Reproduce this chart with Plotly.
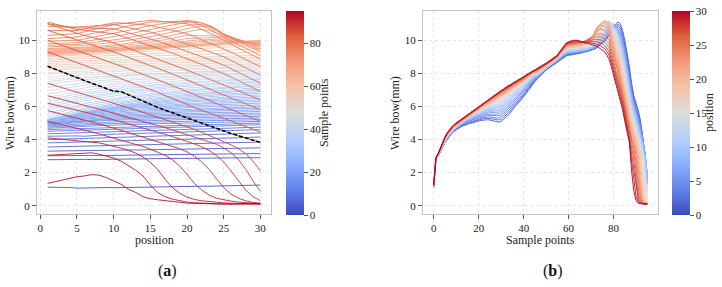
import plotly.graph_objects as go

# ---------------- data ----------------
positions = list(range(1, 31))          # x of panel (a), colour of panel (b)
sample_points = list(range(96))         # x of panel (b), colour of panel (a)
highlight_sample = 87                   # black dashed profile in panel (a)

# wire bow (mm): one row per sample point, 30 values (positions 1..30)
bow_samples_00_15 = [
    [1.12,1.12,1.11,1.1,1.06,1.08,1.1,1.11,1.1,1.09,1.1,1.12,1.13,1.14,1.15,1.15,1.16,1.15,1.15,1.16,1.17,1.18,1.18,1.19,1.2,1.21,1.22,1.22,1.23,1.25],
    [2.78,2.79,2.8,2.8,2.81,2.8,2.79,2.8,2.81,2.82,2.82,2.83,2.83,2.84,2.83,2.84,2.85,2.86,2.86,2.85,2.86,2.87,2.88,2.88,2.87,2.88,2.89,2.9,2.9,2.9],
    [3.02,3.03,3.03,3.04,3.05,3.05,3.04,3.03,3.04,3.05,3.06,3.06,3.07,3.08,3.08,3.07,3.08,3.09,3.1,3.1,3.1,3.11,3.12,3.12,3.11,3.12,3.13,3.14,3.15,3.15],
    [3.3,3.31,3.31,3.32,3.33,3.32,3.33,3.34,3.35,3.36,3.36,3.37,3.37,3.38,3.4,3.41,3.41,3.42,3.43,3.44,3.44,3.45,3.46,3.46,3.47,3.48,3.48,3.49,3.5,3.5],
    [3.55,3.56,3.57,3.58,3.59,3.6,3.61,3.6,3.61,3.62,3.64,3.66,3.67,3.68,3.69,3.7,3.71,3.72,3.73,3.74,3.75,3.76,3.77,3.78,3.79,3.8,3.81,3.82,3.84,3.85],
    [3.8,3.81,3.82,3.84,3.85,3.86,3.87,3.88,3.9,3.91,3.92,3.93,3.94,3.96,3.97,3.98,3.99,4.0,4.02,4.03,4.04,4.05,4.06,4.08,4.09,4.1,4.11,4.12,4.14,4.15],
    [4.0,4.01,4.03,4.04,4.06,4.07,4.08,4.1,4.11,4.12,4.14,4.15,4.17,4.18,4.19,4.21,4.22,4.23,4.25,4.26,4.28,4.29,4.3,4.32,4.33,4.34,4.36,4.37,4.39,4.4],
    [4.2,4.21,4.23,4.24,4.22,4.2,4.22,4.26,4.31,4.32,4.34,4.35,4.37,4.38,4.39,4.41,4.42,4.43,4.45,4.46,4.48,4.49,4.5,4.52,4.53,4.54,4.56,4.57,4.59,4.6],
    [4.35,4.36,4.38,4.39,4.41,4.42,4.43,4.45,4.46,4.47,4.49,4.5,4.52,4.53,4.54,4.56,4.57,4.58,4.6,4.61,4.63,4.64,4.65,4.67,4.68,4.69,4.71,4.72,4.74,4.75],
    [4.5,4.51,4.53,4.54,4.56,4.57,4.58,4.6,4.61,4.62,4.64,4.65,4.67,4.68,4.69,4.71,4.72,4.73,4.75,4.76,4.78,4.79,4.8,4.82,4.83,4.84,4.86,4.87,4.89,4.9],
    [4.6,4.61,4.63,4.64,4.66,4.67,4.68,4.7,4.71,4.72,4.74,4.75,4.77,4.78,4.79,4.81,4.82,4.83,4.85,4.86,4.88,4.89,4.9,4.92,4.93,4.94,4.96,4.97,4.99,5.0],
    [4.68,4.71,4.73,4.76,4.78,4.8,4.82,4.84,4.86,4.88,4.89,4.9,4.92,4.93,4.95,4.96,4.97,4.98,4.99,5.01,5.02,5.03,5.04,5.05,5.06,5.07,5.08,5.08,5.09,5.1],
    [4.75,4.78,4.81,4.83,4.86,4.88,4.9,4.93,4.95,4.97,4.99,5.0,5.02,5.03,5.05,5.06,5.07,5.08,5.1,5.11,5.12,5.13,5.14,5.15,5.16,5.17,5.18,5.18,5.19,5.2],
    [4.82,4.85,4.88,4.92,4.95,4.97,5.0,5.02,5.05,5.07,5.09,5.1,5.12,5.13,5.15,5.16,5.17,5.18,5.2,5.21,5.22,5.23,5.24,5.25,5.26,5.27,5.28,5.28,5.29,5.3],
    [4.88,4.92,4.96,4.99,5.03,5.06,5.09,5.12,5.15,5.17,5.19,5.2,5.22,5.23,5.25,5.26,5.27,5.28,5.3,5.31,5.32,5.33,5.34,5.35,5.36,5.37,5.38,5.38,5.39,5.4],
    [4.93,4.97,5.01,5.05,5.08,5.12,5.15,5.18,5.2,5.23,5.25,5.27,5.29,5.31,5.32,5.34,5.36,5.37,5.39,5.4,5.41,5.42,5.43,5.44,5.45,5.47,5.47,5.48,5.49,5.5],
]
bow_samples_16_31 = [
    [4.97,5.01,5.06,5.1,5.14,5.18,5.21,5.24,5.27,5.3,5.32,5.35,5.37,5.39,5.4,5.42,5.44,5.46,5.47,5.49,5.5,5.51,5.52,5.54,5.55,5.56,5.57,5.58,5.59,5.6],
    [5.0,5.05,5.1,5.15,5.19,5.23,5.27,5.3,5.34,5.36,5.39,5.42,5.44,5.46,5.48,5.5,5.53,5.54,5.56,5.57,5.59,5.6,5.62,5.63,5.64,5.66,5.67,5.68,5.69,5.7],
    [5.05,5.1,5.16,5.21,5.25,5.3,5.34,5.37,5.41,5.44,5.47,5.5,5.52,5.55,5.57,5.59,5.61,5.63,5.65,5.67,5.68,5.7,5.71,5.73,5.74,5.76,5.76,5.78,5.79,5.8],
    [5.1,5.16,5.21,5.27,5.32,5.36,5.4,5.44,5.48,5.52,5.55,5.58,5.6,5.63,5.65,5.68,5.7,5.72,5.74,5.76,5.77,5.79,5.8,5.82,5.84,5.85,5.86,5.88,5.88,5.9],
    [5.12,5.18,5.24,5.3,5.36,5.41,5.45,5.5,5.54,5.58,5.61,5.65,5.67,5.7,5.73,5.75,5.78,5.8,5.82,5.84,5.86,5.88,5.89,5.91,5.93,5.95,5.96,5.97,5.98,6.0],
    [5.15,5.22,5.28,5.35,5.41,5.46,5.51,5.56,5.61,5.64,5.68,5.72,5.75,5.78,5.81,5.83,5.86,5.88,5.91,5.93,5.95,5.97,5.99,6.01,6.02,6.04,6.05,6.07,6.08,6.1],
    [5.18,5.25,5.32,5.39,5.46,5.52,5.57,5.62,5.67,5.71,5.75,5.79,5.82,5.85,5.88,5.91,5.95,5.97,6.0,6.02,6.04,6.06,6.08,6.1,6.12,6.14,6.15,6.17,6.18,6.2],
    [5.2,5.28,5.35,5.43,5.5,5.56,5.62,5.67,5.73,5.77,5.82,5.86,5.89,5.93,5.96,5.99,6.03,6.05,6.08,6.1,6.12,6.15,6.17,6.19,6.21,6.23,6.25,6.27,6.28,6.3],
    [5.2,5.28,5.37,5.45,5.52,5.6,5.66,5.72,5.78,5.82,5.87,5.92,5.96,5.99,6.03,6.06,6.1,6.12,6.16,6.18,6.21,6.23,6.26,6.28,6.3,6.33,6.34,6.36,6.38,6.4],
    [5.18,5.27,5.36,5.46,5.54,5.62,5.68,5.75,5.81,5.87,5.92,5.97,6.01,6.05,6.09,6.13,6.17,6.2,6.24,6.26,6.29,6.32,6.34,6.37,6.39,6.42,6.43,6.46,6.47,6.5],
    [5.15,5.25,5.35,5.45,5.54,5.63,5.7,5.77,5.85,5.9,5.96,6.02,6.06,6.11,6.15,6.19,6.24,6.27,6.31,6.34,6.37,6.4,6.43,6.46,6.48,6.51,6.53,6.56,6.57,6.6],
    [5.1,5.21,5.32,5.44,5.53,5.63,5.71,5.79,5.87,5.93,6.0,6.06,6.11,6.16,6.2,6.25,6.3,6.33,6.38,6.41,6.44,6.48,6.51,6.54,6.57,6.6,6.62,6.65,6.67,6.7],
    [5.05,5.17,5.3,5.42,5.52,5.63,5.72,5.8,5.89,5.96,6.03,6.1,6.15,6.21,6.26,6.31,6.36,6.4,6.45,6.49,6.52,6.56,6.59,6.63,6.66,6.7,6.71,6.75,6.77,6.8],
    [5.05,5.18,5.31,5.44,5.55,5.66,5.75,5.85,5.94,6.01,6.09,6.16,6.22,6.27,6.33,6.38,6.44,6.47,6.53,6.57,6.6,6.64,6.68,6.72,6.75,6.79,6.81,6.84,6.86,6.9],
    [5.1,5.23,5.37,5.5,5.61,5.73,5.82,5.92,6.01,6.09,6.16,6.24,6.3,6.35,6.41,6.47,6.53,6.56,6.62,6.66,6.7,6.73,6.77,6.81,6.85,6.89,6.91,6.94,6.96,7.0],
    [5.2,5.33,5.46,5.59,5.7,5.81,5.9,6.0,6.09,6.16,6.24,6.31,6.37,6.42,6.48,6.53,6.59,6.62,6.68,6.72,6.75,6.79,6.83,6.87,6.9,6.94,6.96,6.99,7.01,7.05],
]
bow_samples_32_47 = [
    [5.3,5.43,5.56,5.69,5.8,5.91,6.0,6.1,6.19,6.26,6.34,6.41,6.47,6.52,6.58,6.63,6.69,6.72,6.78,6.82,6.85,6.89,6.93,6.97,7.0,7.04,7.06,7.09,7.11,7.15],
    [5.45,5.58,5.7,5.83,5.94,6.04,6.13,6.22,6.31,6.39,6.46,6.53,6.58,6.64,6.69,6.75,6.8,6.84,6.89,6.93,6.96,7.0,7.03,7.07,7.11,7.14,7.16,7.2,7.21,7.25],
    [5.6,5.72,5.84,5.96,6.06,6.16,6.25,6.33,6.42,6.48,6.55,6.62,6.67,6.72,6.77,6.82,6.88,6.91,6.96,6.99,7.03,7.06,7.1,7.13,7.16,7.2,7.22,7.25,7.27,7.3],
    [5.8,5.91,6.02,6.14,6.23,6.33,6.41,6.49,6.57,6.63,6.7,6.76,6.81,6.86,6.9,6.95,7.0,7.03,7.08,7.11,7.14,7.18,7.21,7.24,7.27,7.3,7.32,7.35,7.37,7.4],
    [5.95,6.06,6.17,6.28,6.37,6.46,6.54,6.62,6.69,6.76,6.82,6.88,6.93,6.97,7.02,7.07,7.11,7.14,7.19,7.22,7.25,7.28,7.31,7.35,7.38,7.41,7.42,7.45,7.47,7.5],
    [6.1,6.2,6.3,6.4,6.49,6.58,6.65,6.72,6.8,6.85,6.91,6.97,7.01,7.06,7.1,7.14,7.19,7.22,7.26,7.29,7.32,7.35,7.38,7.41,7.43,7.46,7.48,7.51,7.52,7.55],
    [6.25,6.35,6.45,6.54,6.63,6.71,6.78,6.85,6.92,6.98,7.03,7.09,7.13,7.17,7.22,7.26,7.3,7.33,7.37,7.4,7.43,7.45,7.48,7.51,7.54,7.57,7.58,7.61,7.62,7.65],
    [6.4,6.49,6.58,6.67,6.75,6.83,6.89,6.96,7.02,7.08,7.13,7.18,7.22,7.26,7.3,7.34,7.38,7.4,7.44,7.47,7.49,7.52,7.54,7.57,7.6,7.62,7.64,7.66,7.67,7.7],
    [6.55,6.64,6.73,6.81,6.89,6.96,7.03,7.09,7.15,7.2,7.25,7.3,7.34,7.38,7.41,7.45,7.49,7.51,7.55,7.58,7.6,7.63,7.65,7.68,7.7,7.73,7.74,7.76,7.78,7.8],
    [6.75,6.83,6.91,6.99,7.06,7.13,7.19,7.24,7.3,7.35,7.39,7.44,7.47,7.51,7.54,7.58,7.61,7.64,7.67,7.69,7.72,7.74,7.76,7.79,7.81,7.83,7.84,7.87,7.88,7.9],
    [6.95,7.02,7.1,7.17,7.23,7.3,7.35,7.4,7.45,7.5,7.54,7.58,7.61,7.64,7.67,7.71,7.74,7.76,7.79,7.81,7.83,7.85,7.87,7.9,7.92,7.94,7.95,7.97,7.98,8.0],
    [7.15,7.21,7.28,7.34,7.39,7.45,7.49,7.54,7.58,7.62,7.65,7.69,7.72,7.74,7.77,7.8,7.83,7.84,7.87,7.89,7.91,7.92,7.94,7.96,7.98,8.0,8.01,8.02,8.03,8.05],
    [7.35,7.41,7.46,7.52,7.57,7.61,7.65,7.69,7.73,7.77,7.8,7.83,7.85,7.88,7.9,7.93,7.95,7.97,7.99,8.01,8.02,8.04,8.05,8.07,8.09,8.1,8.11,8.13,8.13,8.15],
    [7.5,7.55,7.6,7.65,7.69,7.73,7.77,7.8,7.84,7.86,7.89,7.92,7.94,7.96,7.98,8.0,8.03,8.04,8.06,8.07,8.09,8.1,8.12,8.13,8.14,8.16,8.17,8.18,8.19,8.2],
    [7.65,7.67,7.69,7.72,7.74,7.76,7.78,7.81,7.83,7.85,7.87,7.9,7.92,7.94,7.96,7.99,8.01,8.03,8.05,8.08,8.1,8.12,8.14,8.17,8.19,8.21,8.23,8.25,8.28,8.3],
    [7.8,7.82,7.84,7.86,7.88,7.9,7.92,7.94,7.97,7.99,8.01,8.03,8.05,8.07,8.09,8.11,8.13,8.15,8.17,8.19,8.21,8.23,8.26,8.28,8.3,8.32,8.34,8.36,8.38,8.4],
]
bow_samples_48_63 = [
    [7.95,7.97,7.98,8.0,8.02,8.04,8.05,8.07,8.09,8.1,8.12,8.14,8.16,8.17,8.19,8.21,8.23,8.24,8.26,8.28,8.29,8.31,8.33,8.35,8.36,8.38,8.4,8.41,8.43,8.45],
    [8.05,8.07,8.08,8.1,8.12,8.14,8.15,8.17,8.19,8.2,8.22,8.24,8.26,8.27,8.29,8.31,8.33,8.34,8.36,8.38,8.39,8.41,8.43,8.45,8.46,8.48,8.5,8.51,8.53,8.55],
    [8.2,8.21,8.23,8.24,8.26,8.27,8.28,8.3,8.31,8.32,8.34,8.35,8.37,8.38,8.39,8.41,8.42,8.43,8.45,8.46,8.48,8.49,8.5,8.52,8.53,8.54,8.56,8.57,8.59,8.6],
    [8.3,8.31,8.33,8.34,8.36,8.37,8.38,8.4,8.41,8.42,8.44,8.45,8.47,8.48,8.49,8.51,8.52,8.53,8.55,8.56,8.58,8.59,8.6,8.62,8.63,8.64,8.66,8.67,8.69,8.7],
    [8.4,8.41,8.43,8.44,8.46,8.47,8.48,8.5,8.51,8.52,8.54,8.55,8.57,8.58,8.59,8.61,8.62,8.63,8.65,8.66,8.68,8.69,8.7,8.72,8.73,8.74,8.76,8.77,8.79,8.8],
    [8.5,8.51,8.53,8.54,8.56,8.57,8.58,8.6,8.61,8.62,8.64,8.65,8.67,8.68,8.69,8.71,8.72,8.73,8.75,8.76,8.78,8.79,8.8,8.82,8.83,8.84,8.86,8.87,8.89,8.9],
    [8.6,8.61,8.63,8.64,8.66,8.67,8.68,8.7,8.71,8.72,8.74,8.75,8.77,8.78,8.79,8.81,8.82,8.83,8.85,8.86,8.88,8.89,8.9,8.92,8.93,8.94,8.96,8.97,8.99,9.0],
    [8.7,8.71,8.73,8.74,8.76,8.77,8.78,8.8,8.81,8.82,8.84,8.85,8.87,8.88,8.89,8.91,8.92,8.93,8.95,8.96,8.98,8.99,9.0,9.02,9.03,9.04,9.06,9.07,9.09,9.1],
    [8.8,8.82,8.83,8.85,8.87,8.89,8.9,8.92,8.94,8.95,8.97,8.99,9.01,9.02,9.04,9.06,9.08,9.09,9.11,9.13,9.14,9.16,9.18,9.2,9.21,9.23,9.25,9.26,9.28,9.3],
    [8.9,8.92,8.94,8.96,8.98,9.0,9.02,9.04,9.07,9.09,9.11,9.13,9.15,9.17,9.19,9.21,9.23,9.25,9.27,9.29,9.31,9.33,9.36,9.38,9.4,9.42,9.44,9.46,9.48,9.5],
    [9.0,9.02,9.05,9.07,9.1,9.12,9.14,9.17,9.19,9.22,9.24,9.27,9.29,9.31,9.34,9.36,9.39,9.41,9.43,9.46,9.48,9.51,9.53,9.55,9.58,9.6,9.63,9.65,9.68,9.7],
    [9.05,9.08,9.11,9.13,9.16,9.19,9.22,9.24,9.27,9.3,9.33,9.35,9.38,9.41,9.44,9.46,9.49,9.52,9.55,9.57,9.6,9.63,9.66,9.68,9.71,9.74,9.77,9.79,9.82,9.85],
    [9.1,9.13,9.16,9.18,9.21,9.24,9.27,9.29,9.32,9.35,9.38,9.4,9.43,9.46,9.49,9.51,9.54,9.57,9.6,9.62,9.65,9.68,9.71,9.73,9.76,9.79,9.82,9.84,9.87,9.9],
    [9.1,9.13,9.15,9.18,9.2,9.23,9.25,9.28,9.3,9.33,9.36,9.39,9.41,9.44,9.47,9.5,9.53,9.56,9.59,9.62,9.65,9.68,9.72,9.75,9.78,9.81,9.85,9.88,9.92,9.95],
    [9.15,9.17,9.2,9.22,9.24,9.26,9.29,9.31,9.34,9.36,9.39,9.42,9.44,9.47,9.5,9.53,9.56,9.58,9.61,9.64,9.67,9.7,9.74,9.77,9.8,9.84,9.88,9.92,9.96,10.0],
    [9.15,9.18,9.2,9.23,9.25,9.27,9.3,9.32,9.35,9.37,9.4,9.43,9.46,9.48,9.51,9.54,9.57,9.6,9.63,9.66,9.69,9.72,9.76,9.79,9.82,9.86,9.89,9.93,9.96,10.0],
]
bow_samples_64_79 = [
    [9.2,9.22,9.24,9.25,9.27,9.29,9.31,9.34,9.36,9.38,9.41,9.44,9.46,9.49,9.52,9.55,9.58,9.61,9.64,9.67,9.7,9.73,9.77,9.8,9.83,9.86,9.9,9.93,9.97,10.0],
    [9.2,9.22,9.24,9.26,9.28,9.3,9.32,9.35,9.37,9.39,9.42,9.45,9.47,9.5,9.53,9.56,9.59,9.63,9.66,9.69,9.72,9.75,9.79,9.82,9.85,9.87,9.89,9.91,9.93,9.95],
    [9.25,9.26,9.28,9.29,9.3,9.32,9.34,9.36,9.38,9.4,9.43,9.46,9.49,9.52,9.55,9.58,9.62,9.65,9.69,9.72,9.75,9.78,9.82,9.85,9.88,9.88,9.89,9.89,9.9,9.9],
    [9.3,9.31,9.31,9.32,9.33,9.35,9.37,9.39,9.41,9.43,9.46,9.49,9.52,9.55,9.58,9.62,9.66,9.7,9.74,9.78,9.81,9.85,9.88,9.92,9.95,9.93,9.91,9.89,9.87,9.85],
    [9.3,9.31,9.33,9.34,9.35,9.37,9.39,9.41,9.43,9.45,9.48,9.52,9.55,9.59,9.62,9.67,9.72,9.77,9.82,9.87,9.9,9.93,9.96,9.99,10.02,9.98,9.93,9.89,9.84,9.8],
    [9.35,9.36,9.38,9.39,9.4,9.42,9.44,9.46,9.48,9.5,9.54,9.57,9.61,9.64,9.68,9.74,9.8,9.85,9.91,9.97,10.0,10.02,10.05,10.07,10.1,10.04,9.98,9.92,9.86,9.8],
    [9.4,9.41,9.43,9.44,9.45,9.47,9.49,9.51,9.53,9.55,9.59,9.63,9.67,9.71,9.75,9.82,9.89,9.96,10.03,10.1,10.12,10.14,10.16,10.18,10.2,10.11,10.02,9.93,9.84,9.75],
    [9.45,9.46,9.48,9.49,9.5,9.52,9.55,9.57,9.6,9.62,9.67,9.72,9.77,9.82,9.87,9.96,10.04,10.13,10.21,10.3,10.29,10.28,10.27,10.26,10.25,10.14,10.03,9.92,9.81,9.7],
    [9.5,9.51,9.53,9.54,9.55,9.58,9.61,9.64,9.67,9.7,9.76,9.82,9.88,9.94,10.0,10.1,10.2,10.3,10.4,10.5,10.6,10.65,10.6,10.45,10.3,10.17,10.04,9.91,9.78,9.65],
    [9.6,9.61,9.63,9.64,9.65,9.69,9.73,9.77,9.81,9.85,9.92,9.99,10.06,10.13,10.2,10.3,10.4,10.5,10.6,10.7,10.8,10.85,10.8,10.6,10.35,10.2,10.05,9.9,9.75,9.6],
    [9.7,9.71,9.73,9.74,9.75,9.8,9.85,9.9,9.95,10.0,10.08,10.16,10.24,10.32,10.4,10.5,10.6,10.7,10.8,10.9,10.95,10.95,10.9,10.7,10.4,10.22,10.04,9.86,9.68,9.5],
    [9.8,9.81,9.83,9.84,9.85,9.92,9.99,10.06,10.13,10.2,10.29,10.38,10.47,10.56,10.65,10.74,10.83,10.92,11.01,11.1,11.1,11.05,10.9,10.65,10.35,10.16,9.97,9.78,9.59,9.4],
    [9.95,9.96,9.98,9.99,10.0,10.08,10.16,10.24,10.32,10.4,10.5,10.6,10.7,10.8,10.9,10.96,11.02,11.08,11.14,11.2,11.15,11.05,10.85,10.6,10.3,10.1,9.9,9.7,9.5,9.3],
    [10.1,10.12,10.15,10.18,10.2,10.3,10.4,10.5,10.6,10.7,10.78,10.86,10.94,11.02,11.1,11.11,11.12,11.13,11.14,11.15,11.05,10.9,10.7,10.45,10.15,9.94,9.73,9.52,9.31,9.1],
    [10.3,10.32,10.35,10.38,10.4,10.51,10.62,10.73,10.84,10.95,11.0,11.05,11.1,11.15,11.2,11.16,11.12,11.08,11.04,11.0,10.85,10.65,10.45,10.25,10.0,9.77,9.54,9.31,9.08,8.85],
    [10.6,10.58,10.57,10.58,10.6,10.69,10.78,10.87,10.96,11.05,11.05,11.02,10.99,10.95,10.9,10.8,10.7,10.6,10.5,10.4,10.22,10.04,9.86,9.68,9.5,9.28,9.06,8.84,8.62,8.4],
]
bow_samples_80_95 = [
    [10.85,10.82,10.8,10.79,10.8,10.83,10.86,10.89,10.92,10.95,10.86,10.77,10.68,10.59,10.5,10.36,10.22,10.08,9.94,9.8,9.64,9.48,9.32,9.16,9.0,8.78,8.56,8.34,8.12,7.9],
    [11.0,10.92,10.85,10.8,10.75,10.74,10.73,10.72,10.71,10.7,10.58,10.46,10.34,10.22,10.1,9.95,9.8,9.65,9.5,9.35,9.18,9.01,8.84,8.67,8.5,8.28,8.06,7.84,7.62,7.4],
    [11.1,10.98,10.87,10.76,10.65,10.6,10.55,10.5,10.45,10.4,10.26,10.12,9.98,9.84,9.7,9.54,9.38,9.22,9.06,8.9,8.72,8.54,8.36,8.18,8.0,7.78,7.56,7.34,7.12,6.9],
    [11.0,10.85,10.7,10.55,10.4,10.29,10.18,10.07,9.96,9.85,9.68,9.51,9.34,9.17,9.0,8.84,8.68,8.52,8.36,8.2,8.02,7.84,7.66,7.48,7.3,7.12,6.94,6.76,6.58,6.4],
    [10.6,10.45,10.3,10.15,10.0,9.86,9.72,9.58,9.44,9.3,9.14,8.98,8.82,8.66,8.5,8.32,8.14,7.96,7.78,7.6,7.42,7.24,7.06,6.88,6.7,6.52,6.34,6.16,5.98,5.8],
    [10.0,9.85,9.7,9.55,9.4,9.24,9.08,8.92,8.76,8.6,8.44,8.28,8.12,7.96,7.8,7.62,7.44,7.26,7.08,6.9,6.72,6.54,6.36,6.18,6.0,5.82,5.64,5.46,5.28,5.1],
    [9.3,9.14,8.98,8.81,8.65,8.49,8.33,8.17,8.01,7.85,7.69,7.53,7.37,7.21,7.05,6.86,6.67,6.48,6.29,6.1,5.94,5.78,5.62,5.46,5.3,5.13,4.96,4.79,4.62,4.45],
    [8.43,8.25,8.08,7.9,7.73,7.57,7.41,7.24,7.08,6.92,6.9,6.7,6.5,6.3,6.1,5.94,5.78,5.62,5.46,5.3,5.14,4.98,4.82,4.66,4.5,4.37,4.23,4.1,3.96,3.83],
    [7.4,7.26,7.13,6.99,6.85,6.72,6.59,6.46,6.33,6.2,6.06,5.92,5.78,5.64,5.5,5.36,5.22,5.08,4.94,4.8,4.62,4.44,4.26,4.08,3.9,3.68,3.45,3.15,2.7,2.1],
    [6.65,6.54,6.43,6.31,6.2,6.08,5.96,5.84,5.72,5.6,5.48,5.36,5.24,5.12,5.0,4.86,4.72,4.58,4.44,4.3,4.16,4.02,3.88,3.72,3.5,3.2,2.8,2.2,1.5,0.87],
    [6.2,6.1,6.0,5.9,5.8,5.68,5.56,5.44,5.32,5.2,5.08,4.96,4.84,4.72,4.6,4.46,4.32,4.18,4.04,3.9,3.74,3.56,3.35,3.05,2.65,2.1,1.5,0.95,0.55,0.3],
    [5.75,5.64,5.53,5.41,5.3,5.18,5.06,4.94,4.82,4.7,4.56,4.42,4.28,4.14,4.0,3.88,3.76,3.62,3.45,3.25,3.0,2.65,2.2,1.65,1.1,0.7,0.45,0.3,0.2,0.15],
    [5.1,5.0,4.9,4.8,4.7,4.58,4.46,4.34,4.22,4.1,3.98,3.86,3.72,3.58,3.42,3.25,3.05,2.78,2.4,1.9,1.35,0.95,0.65,0.45,0.35,0.28,0.22,0.18,0.15,0.12],
    [4.1,4.06,4.02,3.98,3.95,3.9,3.85,3.8,3.7,3.6,3.48,3.35,3.18,2.95,2.62,2.2,1.6,1.1,0.75,0.52,0.38,0.3,0.25,0.2,0.17,0.15,0.13,0.12,0.11,0.1],
    [3.05,3.08,3.1,3.13,3.16,3.2,3.2,3.12,3.02,2.88,2.7,2.45,2.15,1.8,1.25,0.8,0.55,0.4,0.3,0.22,0.18,0.15,0.13,0.12,0.11,0.1,0.1,0.1,0.1,0.1],
    [1.35,1.45,1.55,1.65,1.75,1.8,1.88,1.85,1.7,1.5,1.3,1.0,0.8,0.55,0.42,0.36,0.3,0.25,0.2,0.16,0.14,0.12,0.11,0.1,0.1,0.1,0.1,0.11,0.13,0.15],
]

wire_bow = (bow_samples_00_15 + bow_samples_16_31 + bow_samples_32_47
            + bow_samples_48_63 + bow_samples_64_79 + bow_samples_80_95)
bad = [i for i, r in enumerate(wire_bow) if len(r) != len(positions)]
assert len(wire_bow) == len(sample_points) and not bad, f"rows={len(wire_bow)} bad={bad}"

# ---------------- style ----------------
COOLWARM = [(0.0, (59, 76, 192)), (0.125, (98, 130, 234)), (0.25, (141, 176, 254)),
            (0.375, (184, 208, 249)), (0.5, (221, 221, 221)), (0.625, (245, 196, 169)),
            (0.75, (244, 154, 123)), (0.875, (222, 96, 60)), (1.0, (180, 4, 38))]


def cw(t):
    t = min(max(t, 0.0), 1.0)
    for (a, ca), (b, cb) in zip(COOLWARM[:-1], COOLWARM[1:]):
        if t <= b:
            f = (t - a) / (b - a)
            c = [round(ca[k] + (cb[k] - ca[k]) * f) for k in range(3)]
            return f"rgb({c[0]},{c[1]},{c[2]})"
    return "rgb(180,4,38)"


cscale = [[p, f"rgb{c}"] for p, c in COOLWARM]
FONT = "Liberation Serif"
TXT = "#222222"
W, H = 722, 287


def px(x):
    return x / W


def py(y):
    return 1 - y / H


fig = go.Figure()

# panel (a): one line per sample point across positions
n_s = len(sample_points) - 1
for s, row in zip(sample_points, wire_bow):
    fig.add_trace(go.Scatter(x=positions, y=row, mode="lines",
                             line=dict(color=cw(s / n_s), width=1), opacity=0.85,
                             xaxis="x", yaxis="y", showlegend=False, hoverinfo="skip"))
fig.add_trace(go.Scatter(x=positions, y=wire_bow[highlight_sample], mode="lines",
                         line=dict(color="black", width=1.5, dash="4px,2px"),
                         xaxis="x", yaxis="y", showlegend=False, hoverinfo="skip"))

# panel (b): one line per position across sample points
for j, p in enumerate(positions):
    fig.add_trace(go.Scatter(x=sample_points, y=[row[j] for row in wire_bow], mode="lines",
                             line=dict(color=cw(p / 30), width=1), opacity=0.9,
                             xaxis="x2", yaxis="y2", showlegend=False, hoverinfo="skip"))


def cbar_trace(xa, ya, cmax, tickvals, xleft):
    return go.Scatter(
        x=[0], y=[0], mode="markers", xaxis=xa, yaxis=ya, showlegend=False, hoverinfo="skip",
        marker=dict(size=0, opacity=0, color=[0], cmin=0, cmax=cmax, colorscale=cscale,
                    showscale=True,
                    colorbar=dict(x=px(xleft), xanchor="left", xpad=0, ypad=0,
                                  y=py(113), yanchor="middle", len=204 / H, lenmode="fraction",
                                  thickness=18, outlinewidth=0, ticks="outside", ticklen=4,
                                  tickcolor="#555555", tickvals=tickvals,
                                  tickfont=dict(family=FONT, size=11, color=TXT))))


fig.add_trace(cbar_trace("x", "y", 95, [0, 20, 40, 60, 80], 286))
fig.add_trace(cbar_trace("x2", "y2", 30, [0, 5, 10, 15, 20, 25, 30], 672))

axis_common = dict(showline=True, mirror=True, linecolor="#c4c4c4", linewidth=1,
                   ticks="outside", ticklen=4, tickcolor="#555555", showgrid=True,
                   gridcolor="#e6e6e6", griddash="dot", gridwidth=1, zeroline=False,
                   tickfont=dict(family=FONT, size=11, color=TXT))

fig.update_layout(
    width=W, height=H, margin=dict(l=0, r=0, t=0, b=0),
    font=dict(family=FONT, size=11, color=TXT),
    paper_bgcolor="white", plot_bgcolor="white", showlegend=False,
    xaxis=dict(domain=[px(37), px(271)], range=[-0.45, 31.45], tickvals=[0, 5, 10, 15, 20, 25, 30],
               anchor="y", **axis_common),
    yaxis=dict(domain=[py(214), py(11)], range=[-0.5, 11.77], tickvals=[0, 2, 4, 6, 8, 10],
               anchor="x", **axis_common),
    xaxis2=dict(domain=[px(423), px(658)], range=[-4.75, 99.75], tickvals=[0, 20, 40, 60, 80],
                anchor="y2", **axis_common),
    yaxis2=dict(domain=[py(214), py(11)], range=[-0.5, 11.77], tickvals=[0, 2, 4, 6, 8, 10],
                anchor="x2", **axis_common),
)

ann = [
    ("position", 154, 240, 0, 12, False),
    ("Wire bow(mm)", 10, 113, -90, 12, False),
    ("Sample points", 324, 113, -90, 12, False),
    ("Sample points", 540, 240, 0, 12, False),
    ("Wire bow(mm)", 395, 113, -90, 12, False),
    ("position", 709, 113, -90, 12, False),
    ("(<b>a</b>)", 167, 271, 0, 16, True),
    ("(<b>b</b>)", 553, 271, 0, 16, True),
]
for text, x, y, ang, size, big in ann:
    fig.add_annotation(text=text, x=px(x), y=py(y), xref="paper", yref="paper",
                       xanchor="center", yanchor="middle", textangle=ang, showarrow=False,
                       font=dict(family=FONT, size=size, color="#111111" if big else TXT))

fig.write_html("out.html")
